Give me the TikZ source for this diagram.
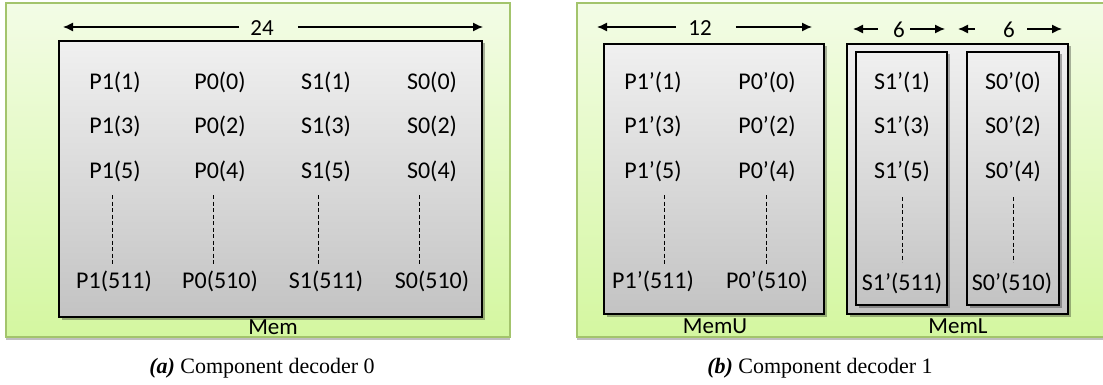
\documentclass[tikz,border=0pt]{standalone}
\usepackage{fontspec}
\setmainfont{Liberation Serif}
\newfontfamily\calib{Carlito}
\usetikzlibrary{arrows.meta,shadows}
\definecolor{gtop}{HTML}{F3FCE6}
\definecolor{gbot}{HTML}{D4F7A0}
\definecolor{gline}{HTML}{A3C46C}
\definecolor{mtop}{HTML}{F0F0F0}
\definecolor{mbot}{HTML}{C3C3C3}
\begin{document}
\begin{tikzpicture}[x=1pt,y=-1pt,
  panel/.style={draw=gline, line width=1.2pt, top color=gtop, bottom color=gbot,
    drop shadow={shadow xshift=0pt, shadow yshift=-3pt, fill=black, opacity=0.25}},
  membox/.style={draw=black, line width=1.3pt, top color=mtop, bottom color=mbot,
    drop shadow={shadow xshift=2.5pt, shadow yshift=-2.5pt, fill=black, opacity=0.3}},
  cell/.style={font=\calib\fontsize{24}{28}\selectfont, inner sep=0pt},
  memlbl/.style={font=\calib\fontsize{23}{27}\selectfont, inner sep=0pt},
  dimlbl/.style={font=\calib\fontsize{23}{27}\selectfont, inner sep=0pt},
  dimarrow/.style={-{Latex[length=10pt,width=9pt]}, line width=1.3pt},
  dots/.style={dash pattern=on 4pt off 2.5pt, line width=0.8pt},
  capt/.style={font=\fontsize{22}{26}\selectfont, inner sep=0pt}]
\useasboundingbox (0,0) rectangle (1103,385);
\begin{scope}
\clip (0,0) rectangle (1103,385);
% panels
\path[panel] (6,3) rectangle (510,337);
\path[panel] (577,3) rectangle (1115,337);
% ---------- (a) ----------
\path[membox] (59,41) rectangle (482,317);
\node[cell] (a11) at (115,82) {P1(1)};
\node[cell] (a12) at (220,82) {P0(0)};
\node[cell] (a13) at (326,82) {S1(1)};
\node[cell] (a14) at (432,82) {S0(0)};
\node[cell] (a21) at (115,126) {P1(3)};
\node[cell] (a22) at (220,126) {P0(2)};
\node[cell] (a23) at (326,126) {S1(3)};
\node[cell] (a24) at (432,126) {S0(2)};
\node[cell] (a31) at (115,171) {P1(5)};
\node[cell] (a32) at (220,171) {P0(4)};
\node[cell] (a33) at (326,171) {S1(5)};
\node[cell] (a34) at (432,171) {S0(4)};
\node[cell] (a41) at (114,281) {P1(511)};
\node[cell] (a42) at (220,281) {P0(510)};
\node[cell] (a43) at (326,281) {S1(511)};
\node[cell] (a44) at (432,281) {S0(510)};
\draw[dots] (112,195) -- (112,265);
\draw[dots] (213,195) -- (213,265);
\draw[dots] (318,195) -- (318,265);
\draw[dots] (419,195) -- (419,265);
\node[memlbl] (mem) at (273,327) {Mem};
\node[dimlbl] (d24) at (262,28) {24};
\coordinate (d24l) at (63,27);
\coordinate (d24r) at (483,27);
\draw[dimarrow] ([xshift=-11pt]d24.west |- d24l) -- (d24l);
\draw[dimarrow] ([xshift=24pt]d24.east |- d24r) -- (d24r);
\node[capt] (capa) at (262,368) {\textbf{\textit{(a)}} Component decoder 0};
% ---------- (b) ----------
\path[membox] (604,44) rectangle (824,314);
\path[membox] (847,44) rectangle (1068,314);
\path[membox] (856,52) rectangle (947,305);
\path[membox] (967,52) rectangle (1059,305);
\node[cell] (b11) at (653,82) {P1’(1)};
\node[cell] (b12) at (767,82) {P0’(0)};
\node[cell] (b13) at (902,82) {S1’(1)};
\node[cell] (b14) at (1013,82) {S0’(0)};
\node[cell] (b21) at (653,126) {P1’(3)};
\node[cell] (b22) at (767,126) {P0’(2)};
\node[cell] (b23) at (902,126) {S1’(3)};
\node[cell] (b24) at (1013,126) {S0’(2)};
\node[cell] (b31) at (653,171) {P1’(5)};
\node[cell] (b32) at (767,171) {P0’(4)};
\node[cell] (b33) at (902,171) {S1’(5)};
\node[cell] (b34) at (1013,171) {S0’(4)};
\node[cell] (b41) at (653,281) {P1’(511)};
\node[cell] (b42) at (767,281) {P0’(510)};
\node[cell] (b43) at (902,283) {S1’(511)};
\node[cell] (b44) at (1012,283) {S0’(510)};
\draw[dots] (664,195) -- (664,265);
\draw[dots] (766,195) -- (766,265);
\draw[dots] (902,197) -- (902,262);
\draw[dots] (1013,197) -- (1013,262);
\node[memlbl] (memu) at (715,326) {MemU};
\node[memlbl] (meml) at (958,326) {MemL};
\node[dimlbl] (d12) at (700,28) {12};
\coordinate (d12l) at (597,27);
\coordinate (d12r) at (812,27);
\draw[dimarrow] ([xshift=-12pt]d12.west |- d12l) -- (d12l);
\draw[dimarrow] ([xshift=24pt]d12.east |- d12r) -- (d12r);
\node[dimlbl] (d6a) at (899,30) {6};
\coordinate (d6al) at (853,29);
\coordinate (d6ar) at (945,29);
\draw[dimarrow] ([xshift=-15pt]d6a.west |- d6al) -- (d6al);
\draw[dimarrow] ([xshift=5pt]d6a.east |- d6ar) -- (d6ar);
\node[dimlbl] (d6b) at (1009,30) {6};
\coordinate (d6bl) at (958,29);
\coordinate (d6br) at (1062,29);
\draw[dimarrow] ([xshift=-28pt]d6b.west |- d6bl) -- (d6bl);
\draw[dimarrow] ([xshift=12pt]d6b.east |- d6br) -- (d6br);
\node[capt] (capb) at (820,368) {\textbf{\textit{(b)}} Component decoder 1};
\end{scope}
\end{tikzpicture}
\end{document}
